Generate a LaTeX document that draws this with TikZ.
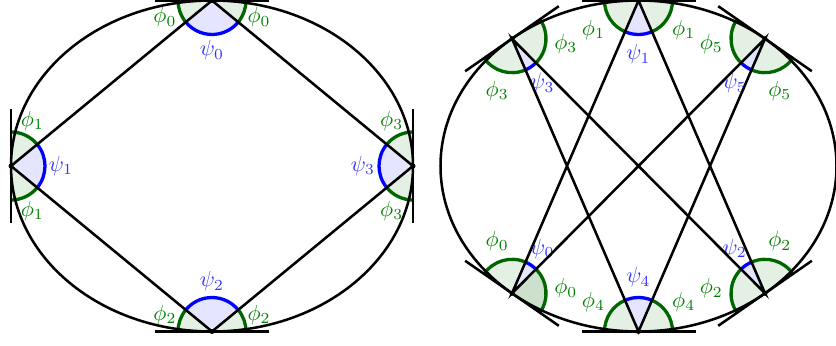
\documentclass[tikz,border=0pt]{standalone}
\tikzset{
  wall/.style={line width=1.15pt},
  phisector/.style={fill=green!40!black!10},
  phidarksector/.style={fill=green!40!black!20},
  psisector/.style={fill=blue!10},
  phiarc/.style={draw=green!40!black, line width=1.5pt},
  phidarkarc/.style={phiarc},
  psiarc/.style={draw=blue, line width=1.5pt},
  philabel/.style={text=green!50!black},
  phidarklabel/.style={philabel},
  psilabel/.style={text=blue!80},
}
\begin{document}
\begin{tikzpicture}[x=0.016cm, y=0.016cm]
  \useasboundingbox (0,0) rectangle (836,345);
  % four-bounce orbit
  \coordinate (L) at (212,179);
  \coordinate (A0) at (212,344.5);
  \coordinate (A1) at (11,179);
  \coordinate (A2) at (212,13.5);
  \coordinate (A3) at (413,179);
  % six-bounce orbit
  \coordinate (R) at (638.5,179);
  \coordinate (B0) at (512,51.7);
  \coordinate (B1) at (638.5,344.5);
  \coordinate (B2) at (765,51.7);
  \coordinate (B3) at (512,306.3);
  \coordinate (B4) at (638.5,13.5);
  \coordinate (B5) at (765,306.3);

  \foreach \v/\a/\b/\s/\lab in {
      A0/180/219.47/phi/\phi_0, A0/219.47/320.53/psi/\psi_0, A0/320.53/360/phi/\phi_0,
      A1/39.47/90/phi/\phi_1, A1/-39.47/39.47/psi/\psi_1, A1/-90/-39.47/phi/\phi_1,
      A2/0/39.47/phi/\phi_2, A2/39.47/140.53/psi/\psi_2, A2/140.53/180/phi/\phi_2,
      A3/90/140.53/phi/\phi_3, A3/140.53/219.47/psi/\psi_3, A3/219.47/270/phi/\phi_3}{
    \fill[\s sector] (\v) -- ([shift={(\a:34)}]\v) arc[start angle=\a, end angle=\b, radius=34] -- cycle;
    \draw[\s arc] ([shift={(\a:34)}]\v) arc[start angle=\a, end angle=\b, radius=34];
    \node[\s label] at ([shift={({(\a+\b)/2}:50)}]\v) {$\lab$};
  }
  \foreach \v/\a/\b/\s/\lab in {
      B0/-34.78/45.18/phidark/\phi_0, B0/45.18/66.63/psi/\psi_0, B0/66.63/145.22/phi/\phi_0,
      B1/180/246.63/phi/\phi_1, B1/246.63/293.37/psi/\psi_1, B1/293.37/360/phi/\phi_1,
      B2/34.78/113.37/phi/\phi_2, B2/113.37/134.82/psi/\psi_2, B2/134.82/214.78/phi/\phi_2,
      B3/-45.18/34.78/phi/\phi_3, B3/-66.63/-45.18/psi/\psi_3, B3/214.78/293.37/phi/\phi_3,
      B4/0/66.63/phi/\phi_4, B4/66.63/113.37/psi/\psi_4, B4/113.37/180/phi/\phi_4,
      B5/145.22/225.18/phi/\phi_5, B5/225.18/246.63/psi/\psi_5, B5/246.63/325.22/phi/\phi_5}{
    \fill[\s sector] (\v) -- ([shift={(\a:34)}]\v) arc[start angle=\a, end angle=\b, radius=34] -- cycle;
    \draw[\s arc] ([shift={(\a:34)}]\v) arc[start angle=\a, end angle=\b, radius=34];
    \node[\s label] at ([shift={({(\a+\b)/2}:54)}]\v) {$\lab$};
  }

  \draw[wall] (L) ellipse [x radius=201, y radius=165.5];
  \draw[wall] (R) ellipse [x radius=198, y radius=165.5];
  \draw[wall] (A0) -- (A1) -- (A2) -- (A3) -- cycle;
  \draw[wall] (B0) -- (B1) -- (B2) -- (B3) -- (B4) -- (B5) -- cycle;

  % tangents at the bounce points
  \foreach \v/\t in {A0/0, A1/90, A2/0, A3/90, B0/-34.78, B1/0, B2/34.78, B3/34.78, B4/0, B5/-34.78}
    \draw[wall] ([shift={(\t:57)}]\v) -- ([shift={({\t+180}:57)}]\v);
  \foreach \v in {A0,A1,A2,A3,B0,B1,B2,B3,B4,B5}
    \fill (\v) circle [radius=2.5];
\end{tikzpicture}
\end{document}
